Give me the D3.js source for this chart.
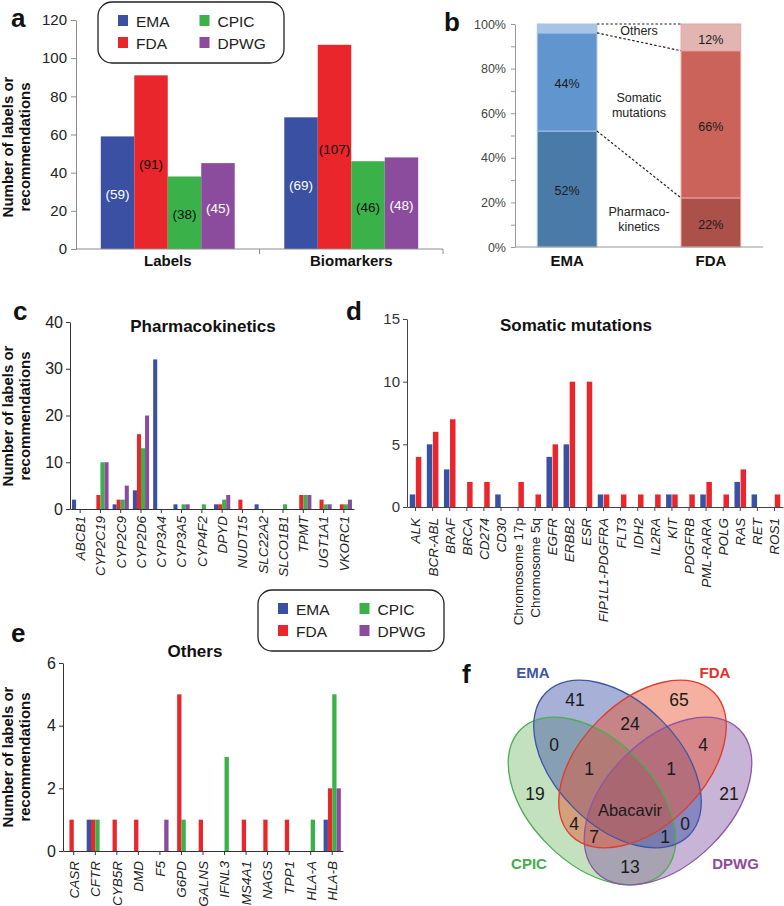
<!DOCTYPE html>
<html>
<head>
<meta charset="utf-8">
<script src="https://cdn.jsdelivr.net/npm/d3@7"></script>
<style>
  body { margin: 0; background: #fff; }
  svg text { font-family: "Liberation Sans", Arial, Helvetica, sans-serif; }
</style>
</head>
<body>
<svg id="fig" width="784" height="906"></svg>
<script>
var FONT = '"Liberation Sans", Arial, Helvetica, sans-serif';

// ---- data ----
var agencies = ["EMA", "FDA", "CPIC", "DPWG"];
var agencyColors = ["#3a50a2", "#e8262b", "#3bb14a", "#8c4c9e"];

// a
var aGroups = ["Labels", "Biomarkers"];
var aLabels = [59, 91, 38, 45];
var aBiomarkers = [69, 107, 46, 48];
var aTicks = [0, 20, 40, 60, 80, 100, 120];

// b
var bCategories = ["Pharmacokinetics", "Somatic mutations", "Others"];
var bAgencies = ["EMA", "FDA"];
var bEMA = [52, 44, 4];
var bFDA = [22, 66, 12];

// c
var pkGenes = ["ABCB1", "CYP2C19", "CYP2C9", "CYP2D6", "CYP3A4", "CYP3A5", "CYP4F2",
  "DPYD", "NUDT15", "SLC22A2", "SLCO1B1", "TPMT", "UGT1A1", "VKORC1"];
var pkEMA  = [2, 0, 1, 4, 32, 1, 0, 1, 0, 1, 0, 0, 0, 0];
var pkFDA  = [0, 3, 2, 16, 0, 0, 0, 1, 2, 0, 0, 3, 2, 1];
var pkCPIC = [0, 10, 2, 13, 0, 1, 1, 2, 0, 0, 1, 3, 1, 1];
var pkDPWG = [0, 10, 5, 20, 0, 1, 0, 3, 0, 0, 0, 3, 1, 2];

// d
var smGenes = ["ALK", "BCR-ABL", "BRAF", "BRCA", "CD274", "CD30", "Chromosome 17p",
  "Chromosome 5q", "EGFR", "ERBB2", "ESR", "FIP1L1-PDGFRA", "FLT3", "IDH2", "IL2RA",
  "KIT", "PDGFRB", "PML-RARA", "POLG", "RAS", "RET", "ROS1"];
var smEMA = [1, 5, 3, 0, 0, 1, 0, 0, 4, 5, 0, 1, 0, 0, 0, 1, 0, 1, 0, 2, 1, 0];
var smFDA = [4, 6, 7, 2, 2, 0, 2, 1, 5, 10, 10, 1, 1, 1, 1, 1, 1, 2, 1, 3, 0, 1];

// e
var otGenes = ["CASR", "CFTR", "CYB5R", "DMD", "F5", "G6PD", "GALNS", "IFNL3",
  "MS4A1", "NAGS", "TPP1", "HLA-A", "HLA-B"];
var otEMA  = [0, 1, 0, 0, 0, 0, 0, 0, 0, 0, 0, 0, 1];
var otFDA  = [1, 1, 1, 1, 0, 5, 1, 0, 1, 1, 1, 0, 2];
var otCPIC = [0, 1, 0, 0, 0, 1, 0, 3, 0, 0, 0, 1, 5];
var otDPWG = [0, 0, 0, 0, 1, 0, 0, 0, 0, 0, 0, 0, 2];

// f
var vennSets = ["EMA", "FDA", "CPIC", "DPWG"];
var vennRegions = ["EMA", "FDA", "EMA+FDA", "EMA+CPIC", "FDA+DPWG", "EMA+FDA+CPIC",
  "EMA+FDA+DPWG", "CPIC", "DPWG", "ALL", "FDA+CPIC", "EMA+DPWG", "FDA+CPIC+DPWG",
  "EMA+CPIC+DPWG", "CPIC+DPWG"];
var vennCounts = ["41", "65", "24", "0", "4", "1", "1", "19", "21", "Abacavir",
  "4", "0", "7", "1", "13"];

var svg = d3.select("#fig");

function letter(x, y, t) {
  svg.append("text").attr("x", x).attr("y", y)
    .attr("font-size", 26).attr("font-weight", "bold").attr("fill", "#111").text(t);
}

function yTitle(cy) {
  [["Number of labels or", 13], ["recommendations", 30]].forEach(function(l) {
    svg.append("text")
      .attr("transform", "translate(" + l[1] + "," + cy + ") rotate(-90)")
      .attr("text-anchor", "middle").attr("font-size", 15).attr("font-weight", "bold")
      .attr("fill", "#111").text(l[0]);
  });
}

function legend(x, y) {
  var g = svg.append("g").attr("transform", "translate(" + x + "," + y + ")");
  g.append("rect").attr("width", 186).attr("height", 61).attr("rx", 14)
    .attr("fill", "#fff").attr("stroke", "#222").attr("stroke-width", 1.3);
  // EMA, FDA in the first column, CPIC, DPWG in the second
  agencies.forEach(function(a, i) {
    var col = i < 2 ? 0 : 1, row = i % 2;
    g.append("rect").attr("x", 20 + col * 81.5).attr("y", 13 + row * 22)
      .attr("width", 10).attr("height", 11).attr("fill", agencyColors[i]);
    g.append("text").attr("x", 38 + col * 81.5).attr("y", 24.5 + row * 22)
      .attr("font-size", 15.5).attr("fill", "#222").text(a);
  });
}

function styleAxis(g, color, size, textColor) {
  g.attr("font-family", FONT).attr("font-size", size);
  g.select(".domain").attr("stroke", color);
  g.selectAll(".tick line").attr("stroke", color);
  g.selectAll(".tick text").attr("fill", textColor);
}

// ---- panel a ----
(function() {
  var x0 = d3.scaleBand().domain(aGroups).range([76, 443]);
  var x1 = d3.scaleBand().domain(agencies).range([0, x0.bandwidth()]).paddingOuter(0.74);
  var y = d3.scaleLinear().domain([0, 120]).range([249, 20]);
  var vals = [aLabels, aBiomarkers];
  var g = svg.append("g");

  aGroups.forEach(function(grp, gi) {
    g.selectAll(null).data(vals[gi]).enter().append("rect")
      .attr("x", function(d, i) { return x0(grp) + x1(agencies[i]); })
      .attr("y", function(d) { return y(d); })
      .attr("width", x1.bandwidth())
      .attr("height", function(d) { return y(0) - y(d); })
      .attr("fill", function(d, i) { return agencyColors[i]; });
    g.selectAll(null).data(vals[gi]).enter().append("text")
      .attr("x", function(d, i) { return x0(grp) + x1(agencies[i]) + x1.bandwidth() / 2; })
      .attr("y", function(d) { return (y(d) + y(0)) / 2 + 2; })
      .attr("dy", "0.35em").attr("text-anchor", "middle").attr("font-size", 13.5)
      .attr("fill", function(d, i) { return (i === 0 || i === 3) ? "#fff" : "#111"; })
      .text(function(d) { return "(" + d + ")"; });
  });

  g.append("g").attr("transform", "translate(76,0)")
    .call(d3.axisLeft(y).tickValues(aTicks).tickSize(5).tickSizeOuter(0).tickPadding(4))
    .call(function(ax) { styleAxis(ax, "#8c8c8c", 15, "#222"); });

  var xr = x0.range();
  g.append("line").attr("x1", xr[0]).attr("x2", xr[1]).attr("y1", y(0)).attr("y2", y(0))
    .attr("stroke", "#8c8c8c");
  aGroups.slice(1).map(function(c) { return x0(c); }).concat([xr[1]]).forEach(function(px) {
    g.append("line").attr("x1", px).attr("x2", px).attr("y1", y(0)).attr("y2", y(0) + 5)
      .attr("stroke", "#8c8c8c");
  });
  aGroups.forEach(function(grp) {
    g.append("text").attr("x", x0(grp) + x0.bandwidth() / 2).attr("y", 266)
      .attr("text-anchor", "middle").attr("font-size", 15).attr("font-weight", "bold")
      .attr("fill", "#111").text(grp);
  });

  legend(98, 2);
  yTitle(147);
  letter(11, 27, "a");
})();

// ---- panel b ----
(function() {
  var x = d3.scaleBand().domain(bAgencies).range([515, 763]).paddingInner(0.585).paddingOuter(0.155);
  var y = d3.scaleLinear().domain([0, 100]).range([247, 24]);
  var shares = [bEMA, bFDA];
  var fills = [["#4a7aa8", "#6096cd", "#a8c4e4"], ["#ac504a", "#cc635a", "#e2b4b2"]];
  var strokes = ["#a3c2e4", "#eaa49f"];
  var g = svg.append("g");
  var cums = shares.map(function(s) {
    var c = [0];
    s.forEach(function(v) { c.push(c[c.length - 1] + v); });
    return c;
  });

  bAgencies.forEach(function(a, ai) {
    bCategories.forEach(function(cat, ci) {
      var lo = cums[ai][ci], hi = cums[ai][ci + 1];
      g.append("rect").attr("x", x(a)).attr("y", y(hi)).attr("width", x.bandwidth())
        .attr("height", y(lo) - y(hi)).attr("fill", fills[ai][ci])
        .attr("stroke", strokes[ai]).attr("stroke-width", 1);
      if (shares[ai][ci] >= 10) {
        g.append("text").attr("x", x(a) + x.bandwidth() / 2).attr("y", (y(lo) + y(hi)) / 2 + 2)
          .attr("dy", "0.35em").attr("text-anchor", "middle").attr("font-size", 12.5)
          .attr("fill", "#1a1a1a").text(shares[ai][ci] + "%");
      }
    });
  });

  // connecting dashed lines
  [1, 2, 3].forEach(function(k) {
    g.append("line")
      .attr("x1", x("EMA") + x.bandwidth()).attr("y1", y(cums[0][k]))
      .attr("x2", x("FDA")).attr("y2", y(cums[1][k]))
      .attr("stroke", "#222").attr("stroke-width", 1.2).attr("stroke-dasharray", "2.5,2");
  });

  var mid = (x("EMA") + x.bandwidth() + x("FDA")) / 2;
  [[["Others"], [95]], [["Somatic", "mutations"], [65, 58.3]], [["Pharmaco-", "kinetics"], [13.9, 7.2]]]
    .forEach(function(n) {
      n[0].forEach(function(t, i) {
        g.append("text").attr("x", mid).attr("y", y(n[1][i])).attr("text-anchor", "middle")
          .attr("font-size", 12.5).attr("fill", "#222").text(t);
      });
    });

  g.append("g").attr("transform", "translate(515,0)")
    .call(d3.axisLeft(y).tickValues(d3.range(0, 101, 10)).tickSize(4).tickSizeOuter(0).tickPadding(5)
      .tickFormat(function(d) { return d % 20 === 0 ? d + "%" : ""; }))
    .call(function(ax) { styleAxis(ax, "#999", 12.5, "#444"); });
  g.append("line").attr("x1", 515).attr("x2", 763).attr("y1", y(0)).attr("y2", y(0))
    .attr("stroke", "#999");
  bAgencies.forEach(function(a) {
    g.append("text").attr("x", x(a) + x.bandwidth() / 2).attr("y", 266)
      .attr("text-anchor", "middle").attr("font-size", 15).attr("font-weight", "bold")
      .attr("fill", "#111").text(a);
  });
  letter(444, 31, "b");
})();

// ---- grouped bar panels c, d, e ----
function groupedPanel(cfg) {
  var x0 = d3.scaleBand().domain(cfg.cats).range(cfg.xr);
  var x1 = d3.scaleBand().domain(d3.range(cfg.series.length)).range([0, x0.bandwidth()])
    .paddingInner(cfg.pi).paddingOuter(cfg.po);
  var y = d3.scaleLinear().domain(cfg.yd).range(cfg.yr);
  var g = svg.append("g");

  cfg.series.forEach(function(vals, si) {
    g.selectAll(null).data(vals).enter().append("rect")
      .attr("x", function(d, i) { return x0(cfg.cats[i]) + x1(si); })
      .attr("y", function(d) { return y(d); })
      .attr("width", x1.bandwidth())
      .attr("height", function(d) { return y(0) - y(d); })
      .attr("fill", cfg.colors[si]);
  });

  g.append("g").attr("transform", "translate(" + cfg.xr[0] + ",0)")
    .call(d3.axisLeft(y).tickValues(cfg.ticks).tickFormat(d3.format("d"))
      .tickSize(4).tickSizeOuter(0).tickPadding(3))
    .call(function(ax) { styleAxis(ax, cfg.axisColor, cfg.tickFont, cfg.tickColor); });

  g.append("g").attr("transform", "translate(0," + y(0) + ")")
    .call(d3.axisBottom(x0).tickSize(4).tickSizeOuter(0))
    .call(function(ax) {
      styleAxis(ax, cfg.axisColor, 13.5, "#222");
      ax.selectAll(".tick text")
        .attr("transform", "rotate(-90)").attr("text-anchor", "end")
        .attr("x", -cfg.labelOff).attr("y", 0).attr("dy", "0.36em")
        .attr("font-style", function(d) { return /^Chromosome/.test(d) ? "normal" : "italic"; });
    });

  g.append("text").attr("x", cfg.title[1]).attr("y", cfg.title[2]).attr("text-anchor", "middle")
    .attr("font-size", 17).attr("font-weight", "bold").attr("fill", "#111").text(cfg.title[0]);
}

groupedPanel({
  cats: pkGenes, series: [pkEMA, pkFDA, pkCPIC, pkDPWG], colors: agencyColors,
  xr: [70, 354], yd: [0, 40], yr: [509, 322], ticks: [0, 10, 20, 30, 40],
  pi: 0, po: 0.5, axisColor: "#333", tickFont: 16, tickColor: "#222", labelOff: 7,
  title: ["Pharmacokinetics", 203, 332]
});
yTitle(416);
letter(13, 320, "c");

groupedPanel({
  cats: smGenes, series: [smEMA, smFDA], colors: agencyColors.slice(0, 2),
  xr: [407, 783], yd: [0, 15], yr: [507, 319], ticks: [0, 5, 10, 15],
  pi: 0.1, po: 0.45, axisColor: "#444", tickFont: 15, tickColor: "#333", labelOff: 11,
  title: ["Somatic mutations", 576, 331]
});
letter(346, 320, "d");

legend(258, 590);

groupedPanel({
  cats: otGenes, series: [otEMA, otFDA, otCPIC, otDPWG], colors: agencyColors,
  xr: [63, 343], yd: [0, 6], yr: [851, 663], ticks: [0, 2, 4, 6],
  pi: 0, po: 0.5, axisColor: "#333", tickFont: 16, tickColor: "#222", labelOff: 10,
  title: ["Others", 195, 657]
});
yTitle(757);
letter(11, 642, "e");

// ---- panel f: Venn ----
(function() {
  var vx = d3.scaleLinear().domain([-1, 1]).range([530, 730]);   // centre at 630
  var vy = d3.scaleLinear().domain([-1, 1]).range([690, 890]);   // centre at 790
  var ell = {
    EMA:  { cx: -0.125, cy: -0.26, rot: 45,  fill: "#3c4fa5", stroke: "#3e55a6", text: "#3f55a5", lab: [-0.97, -1.12] },
    FDA:  { cx: 0.125,  cy: -0.26, rot: -45, fill: "#e8502a", stroke: "#e03a2c", text: "#e2302a", lab: [0.85, -1.12] },
    CPIC: { cx: -0.38,  cy: 0.11,  rot: 45,  fill: "#7abd6f", stroke: "#4cae50", text: "#44ad4a", lab: [-1.01, 0.79] },
    DPWG: { cx: 0.38,   cy: 0.11,  rot: -45, fill: "#8559a7", stroke: "#8f56a3", text: "#8e4a9e", lab: [1.055, 0.79] }
  };
  var rx = 101, ry = 62;
  var order = ["CPIC", "DPWG", "EMA", "FDA"];
  var g = svg.append("g");
  order.forEach(function(s) {
    var e = ell[s], cx = vx(e.cx), cy = vy(e.cy);
    g.append("ellipse").attr("cx", cx).attr("cy", cy).attr("rx", rx).attr("ry", ry)
      .attr("transform", "rotate(" + e.rot + "," + cx + "," + cy + ")")
      .attr("fill", e.fill).attr("fill-opacity", 0.45);
  });
  order.forEach(function(s) {
    var e = ell[s], cx = vx(e.cx), cy = vy(e.cy);
    g.append("ellipse").attr("cx", cx).attr("cy", cy).attr("rx", rx).attr("ry", ry)
      .attr("transform", "rotate(" + e.rot + "," + cx + "," + cy + ")")
      .attr("fill", "none").attr("stroke", e.stroke).attr("stroke-width", 1.3);
  });
  vennSets.forEach(function(s) {
    var e = ell[s];
    g.append("text").attr("x", vx(e.lab[0])).attr("y", vy(e.lab[1])).attr("text-anchor", "middle")
      .attr("font-size", 15).attr("font-weight", "bold").attr("fill", e.text).text(s);
  });

  // label anchor per region (unit coords)
  var regionPos = {
    "EMA": [-0.55, -0.9], "FDA": [0.49, -0.9], "EMA+FDA": [0, -0.66],
    "EMA+CPIC": [-0.76, -0.45], "FDA+DPWG": [0.73, -0.45],
    "EMA+FDA+CPIC": [-0.41, -0.21], "EMA+FDA+DPWG": [0.41, -0.21],
    "CPIC": [-0.95, 0.04], "DPWG": [0.99, 0.04], "ALL": [0, 0.2],
    "FDA+CPIC": [-0.56, 0.34], "EMA+DPWG": [0.55, 0.34],
    "FDA+CPIC+DPWG": [-0.36, 0.47], "EMA+CPIC+DPWG": [0.35, 0.47], "CPIC+DPWG": [0, 0.77]
  };
  vennRegions.forEach(function(r, i) {
    var p = regionPos[r];
    g.append("text").attr("x", vx(p[0])).attr("y", vy(p[1])).attr("dy", "0.36em")
      .attr("text-anchor", "middle").attr("font-size", r === "ALL" ? 16.5 : 17.5)
      .attr("fill", "#1a1a1a").text(vennCounts[i]);
  });
  letter(462, 683, "f");
})();
</script>
</body>
</html>
